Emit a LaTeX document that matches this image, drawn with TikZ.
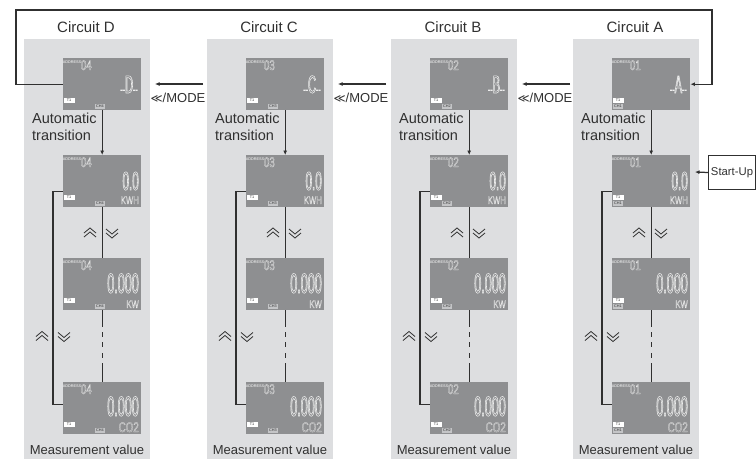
\documentclass[tikz,border=0pt]{standalone}
\usepackage{fontspec}
\usetikzlibrary{arrows.meta}
\setmainfont{Liberation Sans}
\newfontfamily\symfont{DejaVu Sans}
\newfontfamily\lcdnarrow[FakeStretch=.45]{Liberation Sans}
\newfontfamily\lcdwide[FakeStretch=.7]{Liberation Sans}
\definecolor{panelgray}{HTML}{DDDEE0}
\definecolor{screengray}{HTML}{8E8F91}
\definecolor{wiregray}{HTML}{303030}
\definecolor{chipgray}{HTML}{C4C5C7}
% outlined digits of the display: family, size, pen, text
\newcommand{\lcdtext}[4]{{\fontsize{#2}{#2}#1\special{pdf:code 1 Tr #3 w .93 G}#4\special{pdf:code 0 Tr}}}
\tikzset{
  panel/.style={fill=panelgray,minimum width=126pt,minimum height=420pt,inner sep=0pt,anchor=north west},
  screen/.style={fill=screengray,minimum width=78pt,minimum height=52pt,inner sep=0pt,anchor=north west},
  wire/.style={draw=wiregray,line width=1.25pt},
  tip/.style={-{Latex[length=4.5pt,width=4pt]}},
  title/.style={text=wiregray,inner sep=0pt,font=\fontsize{15}{17}\selectfont},
  note/.style={text=wiregray,inner sep=0pt,align=left,anchor=north west,font=\fontsize{14.5}{17}\selectfont},
  tiny/.style={inner sep=0pt,font=\fontsize{3.8}{4}\selectfont},
  lcd/.style={inner sep=0pt,anchor=base east},
  chevup/.pic={\draw[wiregray,line width=.8pt] (-6,0) -- (0,-5) -- (6,0) (-6,4) -- (0,-1) -- (6,4);},
  chevdown/.pic={\draw[wiregray,line width=.8pt] (-6,0) -- (0,5) -- (6,0) (-6,-4) -- (0,1) -- (6,-4);},
}
\begin{document}
\begin{tikzpicture}[x=1pt,y=-1pt]
        \useasboundingbox (0,0) rectangle (756,459);
        \foreach \cname/\sx/\addr/\chip/\ch in {D/63/04/32/CH4,C/246/03/22/CH3,B/430/02/12/CH2,A/612/01/1/CH1}{
          \draw (\sx-39,39) node[panel] (panel\cname) {};
          \draw (\sx+23,27) node[title] (title\cname) {Circuit \cname};
          \draw (\sx-31,113) node[note] (auto\cname) {Automatic\\transition};
          \draw (\sx+24,450) node[title,font=\fontsize{13}{17}\selectfont] (value\cname) {Measurement value};
          \draw (\sx,58) node[screen] (\cname1) {};
          \draw (\sx,155) node[screen] (\cname2) {};
          \draw (\sx,258) node[screen] (\cname3) {};
          \draw (\sx,382) node[screen] (\cname4) {};
          % one display row after the other
          \foreach \row/\sy in {1/58,2/155,3/258,4/382}{
            \draw (\sx+9,\sy+4.5) node[tiny,text=white] (adr\cname\row) {ADDRESS};
            \draw (\sx+29,\sy+12) node[lcd] (num\cname\row) {\lcdtext{\lcdwide}{14}{.22}{\addr}};
            \draw (\sx+6,\sy+42.5) node[tiny,fill=white,minimum width=11pt,minimum height=5pt,text=wiregray] (set\cname\row) {T1};
            \draw (\sx+\chip+5,\sy+48.5) node[tiny,fill=chipgray,minimum width=10pt,minimum height=5pt,text=wiregray] (ch\cname\row) {\ch};
          }
          \draw (\sx+75,93) node[lcd] (name\cname) {\lcdtext{\lcdwide}{10}{.5}{--}\lcdtext{\lcdnarrow}{25}{.55}{\cname}\lcdtext{\lcdwide}{10}{.5}{--}};
          \foreach \row/\sy/\big/\bigsize/\bigy/\unit/\unity in {2/155/0.0/26/35/KWH/49,3/258/0.000/28/35/KW/50,4/382/0.000/28/34/CO2/50}{
            \draw (\sx+76,\sy+\bigy) node[lcd] (big\cname\row) {\lcdtext{\lcdnarrow}{\bigsize}{.55}{\big}};
            \draw (\sx+76,\sy+\unity) node[lcd] (unit\cname\row) {\lcdtext{\lcdwide}{\ifnum\row=4 14\else 11\fi}{.22}{\unit}};
          }
          \draw[wire,tip] (\cname1.south) -- (\cname2.north);
          \draw[wire] (\cname2.south) -- (\cname3.north);
          \draw[wire,dash pattern=on 17pt off 5pt on 5pt off 5pt on 5pt off 6pt on 5pt off 5pt on 19pt] (\cname3.south) -- (\cname4.north);
          \draw[wire] ([yshift=-10pt]\cname2.west) -- ++(-10,0) |- ([yshift=4pt]\cname4.west);
          \draw (\sx+27,233) pic {chevup};
          \draw (\sx+49,233) pic {chevdown};
          \draw (\sx-21,336.5) pic {chevup};
          \draw (\sx+1,336.5) pic {chevdown};
        }
        % the loop over the top and the mode keys
        \coordinate (loopL) at (16,10);
        \coordinate (loopR) at (712,10);
        \draw[wire,tip] (D1.west) -| (loopL) -- (loopR) |- (A1.east);
        \foreach \mname/\mx in {D/155,C/338,B/522}{
          \coordinate (head\mname) at (\mx,84);
          \coordinate (tail\mname) at (\mx+48,84);
          \draw[wire,tip] (tail\mname) -- (head\mname);
          \draw (\mx+23,98) node[title,font=\fontsize{13}{15}\selectfont] (mode\mname) {{\symfont\fontsize{11.5}{15}\selectfont ≪}/MODE};
        }
        \draw (708,155) node[draw=wiregray,line width=1pt,minimum width=47pt,minimum height=34pt,inner sep=0pt,anchor=north west,font=\fontsize{11.3}{13}\selectfont,text=wiregray] (startup) {Start-Up};
        \coordinate (startTip) at (695,172);
        \draw[wire,tip] (startup.west) -- (startTip);
\end{tikzpicture}
\end{document}
